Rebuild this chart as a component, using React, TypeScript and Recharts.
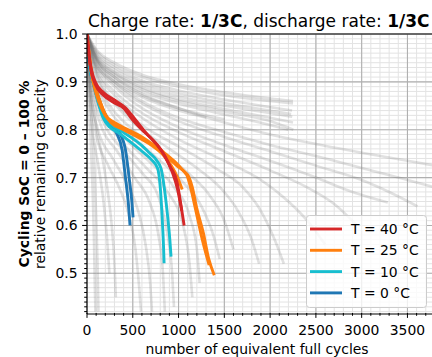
import React from 'react';
import { LineChart, Line, XAxis, YAxis, CartesianGrid, ReferenceLine } from 'recharts';

type Pt = [number, number];

// axis ticks
const xMajor = [0, 500, 1000, 1500, 2000, 2500, 3000, 3500];
const yMajor = [0.5, 0.6, 0.7, 0.8, 0.9, 1.0];
const xMinor = Array.from({ length: 38 }, (_, i) => i * 100);
const yMinor = Array.from({ length: 59 }, (_, i) => Math.round((0.42 + i * 0.01) * 100) / 100);

const legendLabels = ['T = 40 °C', 'T = 25 °C', 'T = 10 °C', 'T = 0 °C'];
const legendColors = ['#d62728', '#ff7f0e', '#17becf', '#1f77b4'];

// highlighted cells, [cycles, capacity]
const runs40: Pt[][] = [
  [[0, 1], [30, 0.94], [90, 0.895], [180, 0.872], [300, 0.856], [400, 0.845], [500, 0.82], [600, 0.8], [700, 0.782], [800, 0.76], [908, 0.723], [984, 0.69], [1020, 0.65], [1061, 0.6]],
  [[0, 1], [30, 0.946], [90, 0.9], [180, 0.878], [300, 0.862], [420, 0.846], [520, 0.823], [650, 0.792], [760, 0.77], [850, 0.745], [930, 0.712], [990, 0.675], [1035, 0.63]],
];
const runs25: Pt[][] = [
  [[0, 1], [40, 0.93], [100, 0.88], [150, 0.855], [200, 0.83], [300, 0.815], [450, 0.8], [600, 0.785], [700, 0.772], [830, 0.754], [950, 0.735], [1050, 0.715], [1116, 0.7], [1150, 0.68], [1200, 0.635], [1270, 0.585], [1330, 0.53], [1390, 0.496]],
  [[0, 1], [40, 0.935], [100, 0.885], [160, 0.85], [230, 0.823], [330, 0.81], [480, 0.795], [620, 0.78], [740, 0.765], [860, 0.745], [980, 0.725], [1090, 0.705], [1130, 0.68], [1190, 0.63], [1260, 0.57], [1334, 0.517]],
  [[0, 1], [40, 0.928], [100, 0.875], [170, 0.84], [260, 0.815], [400, 0.8], [550, 0.785], [700, 0.768], [820, 0.75], [920, 0.725], [990, 0.7], [1040, 0.675]],
];
const runs10: Pt[][] = [
  [[0, 1], [30, 0.93], [66, 0.9], [120, 0.858], [175, 0.825], [250, 0.805], [350, 0.793], [470, 0.775], [600, 0.755], [700, 0.738], [770, 0.72], [800, 0.68], [820, 0.62], [835, 0.56], [842, 0.521]],
  [[0, 1], [30, 0.935], [70, 0.905], [130, 0.862], [190, 0.83], [270, 0.81], [370, 0.798], [480, 0.784], [580, 0.77], [680, 0.752], [760, 0.736], [810, 0.718], [850, 0.67], [880, 0.62], [905, 0.57], [918, 0.535]],
];
const runs0: Pt[][] = [
  [[0, 1], [30, 0.93], [66, 0.9], [120, 0.86], [175, 0.83], [250, 0.81], [330, 0.79], [383, 0.758], [420, 0.7], [450, 0.65], [470, 0.6]],
  [[0, 1], [30, 0.935], [70, 0.905], [130, 0.865], [190, 0.835], [270, 0.812], [350, 0.795], [420, 0.758], [460, 0.7], [490, 0.65], [503, 0.617]],
];

// all other cells of the study, drawn faint
const grayRuns: Pt[][] = [
  [[0, 1], [100, 0.968], [300, 0.94], [600, 0.915], [1000, 0.895], [1500, 0.878], [2000, 0.865], [2250, 0.86]],
  [[0, 1], [100, 0.965], [300, 0.935], [600, 0.91], [1000, 0.89], [1500, 0.872], [2000, 0.86], [2250, 0.855]],
  [[0, 1], [100, 0.96], [300, 0.93], [600, 0.903], [1000, 0.882], [1500, 0.863], [2000, 0.847], [2240, 0.84]],
  [[0, 1], [100, 0.958], [300, 0.925], [600, 0.898], [1000, 0.876], [1500, 0.856], [2000, 0.84], [2230, 0.833]],
  [[0, 1], [100, 0.955], [300, 0.92], [600, 0.893], [1000, 0.87], [1500, 0.85], [2000, 0.835], [2242, 0.827]],
  [[0, 1], [100, 0.952], [300, 0.918], [600, 0.888], [1000, 0.864], [1500, 0.843], [2000, 0.825], [2250, 0.815]],
  [[0, 1], [100, 0.95], [300, 0.915], [600, 0.885], [1000, 0.86], [1500, 0.838], [2000, 0.818], [2253, 0.8]],
  [[0, 1], [100, 0.948], [300, 0.91], [600, 0.88], [1000, 0.855], [1500, 0.832], [2000, 0.81], [2200, 0.8]],
  [[0, 1], [100, 0.945], [300, 0.905], [600, 0.872], [1000, 0.845], [1500, 0.822]],
  [[0, 1], [80, 0.94], [300, 0.9], [600, 0.868], [1000, 0.84], [1300, 0.825]],
  [[0, 1], [100, 0.95], [300, 0.91], [600, 0.875], [1000, 0.845], [1500, 0.815], [2000, 0.79], [2500, 0.77], [3000, 0.752], [3500, 0.735], [3800, 0.725]],
  [[0, 1], [100, 0.945], [300, 0.9], [600, 0.86], [1000, 0.825], [1500, 0.795], [2000, 0.768], [2500, 0.745], [3000, 0.72], [3400, 0.7], [3790, 0.68]],
  [[0, 1], [100, 0.94], [300, 0.895], [600, 0.855], [1000, 0.818], [1500, 0.785], [2000, 0.755], [2500, 0.725], [3000, 0.695], [3300, 0.67], [3610, 0.64]],
  [[0, 1], [100, 0.935], [300, 0.89], [600, 0.845], [1000, 0.805], [1500, 0.768], [2000, 0.735], [2500, 0.7], [2900, 0.67], [3285, 0.648]],
  [[0, 1], [100, 0.93], [300, 0.88], [600, 0.835], [1000, 0.795], [1500, 0.755], [2000, 0.715], [2400, 0.68], [2700, 0.645], [2950, 0.6]],
  [[0, 1], [100, 0.925], [300, 0.872], [600, 0.825], [1000, 0.78], [1500, 0.735], [1900, 0.695], [2200, 0.65], [2450, 0.6], [2600, 0.56]],
  [[0, 1], [100, 0.92], [300, 0.86], [600, 0.81], [1000, 0.765], [1400, 0.72], [1700, 0.68], [1900, 0.63], [2050, 0.57], [2150, 0.52]],
  [[0, 1], [100, 0.915], [300, 0.855], [600, 0.8], [900, 0.76], [1200, 0.72], [1450, 0.68], [1650, 0.63], [1800, 0.57], [1880, 0.52]],
  [[0, 1], [80, 0.91], [250, 0.85], [500, 0.8], [800, 0.755], [1100, 0.71], [1350, 0.66], [1500, 0.61], [1600, 0.55]],
  [[0, 1], [80, 0.905], [250, 0.84], [500, 0.785], [800, 0.735], [1050, 0.69], [1250, 0.64], [1380, 0.58], [1450, 0.53]],
  [[0, 1], [60, 0.9], [200, 0.835], [450, 0.775], [700, 0.73], [950, 0.68], [1120, 0.62], [1200, 0.55], [1230, 0.48]],
  [[0, 1], [60, 0.895], [200, 0.825], [400, 0.77], [650, 0.72], [880, 0.67], [1050, 0.6], [1120, 0.52], [1150, 0.45]],
  [[0, 1], [50, 0.89], [180, 0.815], [380, 0.76], [600, 0.71], [780, 0.66], [880, 0.58], [930, 0.5], [950, 0.43]],
  [[0, 1], [50, 0.885], [150, 0.81], [330, 0.755], [520, 0.7], [680, 0.65], [780, 0.58], [830, 0.5], [850, 0.42]],
  [[0, 1], [40, 0.88], [120, 0.8], [280, 0.74], [430, 0.69], [560, 0.63], [640, 0.56], [690, 0.48], [710, 0.42]],
  [[0, 1], [40, 0.87], [100, 0.79], [220, 0.73], [350, 0.68], [460, 0.62], [530, 0.55], [570, 0.47], [590, 0.42]],
  [[0, 1], [20, 0.9], [50, 0.82], [80, 0.72], [100, 0.62], [115, 0.52], [125, 0.42]],
  [[0, 1], [15, 0.88], [40, 0.78], [60, 0.68], [75, 0.58], [85, 0.48], [92, 0.42]],
  [[0, 1], [30, 0.9], [80, 0.83], [150, 0.76], [220, 0.68], [270, 0.6], [300, 0.52], [315, 0.45]],
  [[0, 1], [25, 0.89], [60, 0.8], [120, 0.73], [180, 0.65], [220, 0.57], [245, 0.5]],
];

const toRows = (run: Pt[]) => run.map(([x, y]) => ({ x, y }));

const FONT = '"DejaVu Sans", sans-serif';

const XTick = (props: any) => {
  const { x, y, payload } = props;
  const v = payload.value;
  const major = v % 500 === 0;
  const y0 = y - 1;
  return (
    <g>
      <line x1={x} x2={x} y1={y0} y2={y0 + (major ? 4.9 : 2.8)} stroke="#000" strokeWidth={1} />
      {major && (
        <text x={x} y={y0 + 22} textAnchor="middle" fontSize={13.9} fontFamily={FONT} fill="#000">
          {v}
        </text>
      )}
    </g>
  );
};

const YTick = (props: any) => {
  const { x, y, payload } = props;
  const v = payload.value;
  const major = Math.abs(v * 10 - Math.round(v * 10)) < 1e-6;
  return (
    <g>
      <line x1={x} x2={x - (major ? 4.9 : 2.8)} y1={y} y2={y} stroke="#000" strokeWidth={1} />
      {major && (
        <text x={x - 9.5} y={y + 5} textAnchor="end" fontSize={13.9} fontFamily={FONT} fill="#000">
          {v.toFixed(1)}
        </text>
      )}
    </g>
  );
};

const drawRuns = (runs: Pt[][], color: string, id: string) =>
  runs.map((r, i) => (
    <Line
      key={id + i}
      data={toRows(r)}
      dataKey="y"
      type="monotone"
      stroke={color}
      strokeWidth={2.9}
      dot={false}
      activeDot={false}
      isAnimationActive={false}
    />
  ));

export default function App() {
  return (
    <div style={{ position: 'absolute', left: 0, top: 0, width: 432, height: 357, overflow: 'hidden', background: '#fff' }}>
      <LineChart width={440} height={357} margin={{ top: 34, right: 6, bottom: 42, left: 86 }}>
        <CartesianGrid stroke="#e3e3e3" strokeWidth={1} verticalValues={xMinor} horizontalValues={yMinor} />
        <CartesianGrid stroke="#b0b0b0" strokeWidth={1.1} verticalValues={xMajor} horizontalValues={yMajor} />
        <XAxis
          type="number"
          dataKey="x"
          domain={[0, 3790]}
          ticks={xMinor}
          interval={0}
          tick={XTick}
          tickLine={false}
          tickSize={0}
          tickMargin={0}
          height={1}
          allowDataOverflow
          axisLine={{ stroke: '#000', strokeWidth: 1.1 }}
        />
        <YAxis
          type="number"
          domain={[0.415, 1]}
          ticks={yMinor}
          interval={0}
          tick={YTick}
          tickLine={false}
          tickSize={0}
          tickMargin={0}
          width={1}
          allowDataOverflow
          axisLine={{ stroke: '#000', strokeWidth: 1.1 }}
        />
        {grayRuns.map((r, i) => (
          <Line
            key={'g' + i}
            data={toRows(r)}
            dataKey="y"
            type="monotone"
            stroke="#707070"
            strokeOpacity={0.21}
            strokeWidth={2.6}
            dot={false}
            activeDot={false}
            isAnimationActive={false}
          />
        ))}
        {drawRuns(runs0, legendColors[3], 'b')}
        {drawRuns(runs10, legendColors[2], 'c')}
        {drawRuns(runs25, legendColors[1], 'o')}
        {drawRuns(runs40, legendColors[0], 'r')}
        <ReferenceLine y={1} stroke="#000" strokeWidth={1.1} />
      </LineChart>
      <svg width={432} height={357} style={{ position: 'absolute', left: 0, top: 0, pointerEvents: 'none' }} fontFamily={FONT}>
        <text x={88} y={27} fontSize={17} fill="#000">
          Charge rate: <tspan fontWeight="bold">1/3C</tspan>, discharge rate: <tspan fontWeight="bold">1/3C</tspan>
        </text>
        <text transform="translate(28.5,174) rotate(-90)" textAnchor="middle" fontSize={13.9} fontWeight="bold" fill="#000">
          Cycling SoC = 0 – 100 %
        </text>
        <text transform="translate(45,174) rotate(-90)" textAnchor="middle" fontSize={13.9} fill="#000">
          relative remaining capacity
        </text>
        <text x={257} y={354} textAnchor="middle" fontSize={13.9} fill="#000">
          number of equivalent full cycles
        </text>
        <rect x={306.5} y={215.5} width={120} height={92} rx={3} fill="#fff" fillOpacity={0.8} stroke="#cccccc" />
        {legendLabels.map((lab, i) => (
          <g key={lab}>
            <line x1={310} x2={342} y1={229 + i * 21.3} y2={229 + i * 21.3} stroke={legendColors[i]} strokeWidth={2.9} />
            <text x={351} y={234 + i * 21.3} fontSize={13.9} fill="#000">
              {lab}
            </text>
          </g>
        ))}
      </svg>
    </div>
  );
}
